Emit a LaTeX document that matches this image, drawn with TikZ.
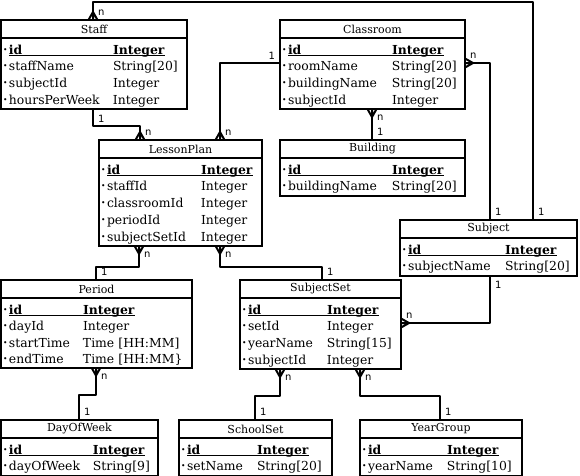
\documentclass[tikz,border=0pt]{standalone}
\usepackage{fontspec}
\setmainfont{DejaVu Serif}
\setsansfont{DejaVu Sans}
\usetikzlibrary{positioning}

\newlength\namecol
\newcommand\dotmark{\raisebox{2pt}{\fontsize{7.5}{7.5}\selectfont\textbullet}}
\newcommand\ulbox[1]{\setbox0\hbox{#1}\rlap{\rule[-2pt]{\wd0}{0.8pt}}\box0}
\newcommand\keyrow[2]{\hspace*{2pt}\makebox[6pt][l]{\dotmark}\ulbox{\makebox[\namecol][l]{\textbf{#1}}\textbf{#2}}}
\newcommand\fldrow[2]{\hspace*{2pt}\makebox[6pt][l]{\dotmark}\makebox[\namecol][l]{#1}#2}
\newcommand\fields[2]{\setlength\namecol{#1}\setbox\strutbox\hbox{\vrule height 14pt depth 2pt width 0pt}\begin{tabular}[t]{@{}l@{}}#2\end{tabular}}

\begin{document}
\begin{tikzpicture}[x=1pt,y=-1pt,
  etitle/.style={draw,line width=2pt,outer sep=0pt,anchor=north west,inner sep=0pt,minimum width=#1,minimum height=18pt,font=\fontsize{11}{12}\selectfont},
  ebody/.style={draw,line width=2pt,outer sep=0pt,inner xsep=0pt,inner ysep=2pt,text width=#1,align=left,font=\fontsize{12.4}{16}\selectfont},
  conn/.style={line width=2pt,line join=round},
  lbl/.style={font=\sffamily\fontsize{10}{10}\selectfont,inner sep=0pt},
  tagNE/.style={lbl,anchor=south west,xshift=4pt,yshift=4pt},
  tagSE/.style={lbl,anchor=north west,xshift=4pt,yshift=-5pt},
  tagNW/.style={lbl,anchor=south east,xshift=-4pt,yshift=3pt},
  crow/.pic={\draw[conn] (-4.5,0) -- (0,-8) -- (4.5,0) (0,0) -- (0,-8);}]
\useasboundingbox (0,0) rectangle (580,475);

% tables
\node[etitle=186pt] (staffh) at (1,20) {Staff};
\node[ebody=186pt,below right=0pt of staffh.south west] (staff) {\fields{104pt}{\keyrow{id}{Integer}\\ \fldrow{staffName}{String[20]}\\ \fldrow{subjectId}{Integer}\\ \fldrow{hoursPerWeek}{Integer}}};

\node[etitle=185pt] (classroomh) at (280,20) {Classroom};
\node[ebody=185pt,below right=0pt of classroomh.south west] (classroom) {\fields{104pt}{\keyrow{id}{Integer}\\ \fldrow{roomName}{String[20]}\\ \fldrow{buildingName}{String[20]}\\ \fldrow{subjectId}{Integer}}};

\node[etitle=163pt] (lessonplanh) at (99,140) {LessonPlan};
\node[ebody=163pt,below right=0pt of lessonplanh.south west] (lessonplan) {\fields{94pt}{\keyrow{id}{Integer}\\ \fldrow{staffId}{Integer}\\ \fldrow{classroomId}{Integer}\\ \fldrow{periodId}{Integer}\\ \fldrow{subjectSetId}{Integer}}};

\node[etitle=185pt] (buildingh) at (280,140) {Building};
\node[ebody=185pt,below right=0pt of buildingh.south west] (building) {\fields{104pt}{\keyrow{id}{Integer}\\ \fldrow{buildingName}{String[20]}}};

\node[etitle=177pt] (subjecth) at (400,220) {Subject};
\node[ebody=177pt,below right=0pt of subjecth.south west] (subject) {\fields{97pt}{\keyrow{id}{Integer}\\ \fldrow{subjectName}{String[20]}}};

\node[etitle=191pt] (periodh) at (1,280) {Period};
\node[ebody=191pt,below right=0pt of periodh.south west] (period) {\fields{74pt}{\keyrow{id}{Integer}\\ \fldrow{dayId}{Integer}\\ \fldrow{startTime}{Time [HH:MM]}\\ \fldrow{endTime}{Time [HH:MM\}}}};

\node[etitle=161pt] (subjectseth) at (240,280) {SubjectSet};
\node[ebody=161pt,below right=0pt of subjectseth.south west] (subjectset) {\fields{79pt}{\keyrow{id}{Integer}\\ \fldrow{setId}{Integer}\\ \fldrow{yearName}{String[15]}\\ \fldrow{subjectId}{Integer}}};

\node[etitle=157pt] (dayofweekh) at (1,420) {DayOfWeek};
\node[ebody=157pt,below right=0pt of dayofweekh.south west] (dayofweek) {\fields{84pt}{\keyrow{id}{Integer}\\ \fldrow{dayOfWeek}{String[9]}}};

\node[etitle=153pt] (schoolseth) at (179,420) {SchoolSet};
\node[ebody=153pt,below right=0pt of schoolseth.south west] (schoolset) {\fields{70pt}{\keyrow{id}{Integer}\\ \fldrow{setName}{String[20]}}};

\node[etitle=162pt] (yeargrouph) at (360,420) {YearGroup};
\node[ebody=162pt,below right=0pt of yeargrouph.south west] (yeargroup) {\fields{79pt}{\keyrow{id}{Integer}\\ \fldrow{yearName}{String[10]}}};

% relations
\draw[conn] ([xshift=92pt]staffh.north west) pic{crow} node[tagNE]{n} -- ++(0,-18.5) -| ([xshift=133pt]subjecth.north west) node[tagNE]{1};
\draw[conn] ([xshift=92pt]staff.south west) node[tagSE]{1} -- ++(0,17) -| ([xshift=41pt]lessonplanh.north west) pic{crow} node[tagNE]{n};
\draw[conn] ([yshift=-25pt]classroom.north west) node[tagNW]{1} -| ([xshift=121pt]lessonplanh.north west) pic{crow} node[tagNE]{n};
\draw[conn] ([yshift=-25pt]classroom.north east) pic[rotate=-90]{crow} node[tagNE]{n} -| ([xshift=90pt]subjecth.north west) node[tagNE]{1};
\draw[conn] ([xshift=92pt]classroom.south west) pic[rotate=180]{crow} node[tagSE]{n} -- ([xshift=92pt]buildingh.north west) node[tagNE]{1};
\draw[conn] ([xshift=40pt]lessonplan.south west) pic[rotate=180]{crow} node[tagSE]{n} -- ++(0,21) -| ([xshift=95pt]periodh.north west) node[tagNE]{1};
\draw[conn] ([xshift=121pt]lessonplan.south west) pic[rotate=180]{crow} node[tagSE]{n} -- ++(0,21) -| ([xshift=82pt]subjectseth.north west) node[tagNE]{1};
\draw[conn] ([xshift=90pt]subject.south west) node[tagSE]{1} |- ([yshift=-25pt]subjectset.north east) pic[rotate=-90]{crow} node[tagNE]{n};
\draw[conn] ([xshift=95pt]period.south west) pic[rotate=180]{crow} node[tagSE]{n} -- ++(0,27) -| ([xshift=78pt]dayofweekh.north west) node[tagNE]{1};
\draw[conn] ([xshift=40pt]subjectset.south west) pic[rotate=180]{crow} node[tagSE]{n} -- ++(0,27) -| ([xshift=76pt]schoolseth.north west) node[tagNE]{1};
\draw[conn] ([xshift=120pt]subjectset.south west) pic[rotate=180]{crow} node[tagSE]{n} -- ++(0,27) -| ([xshift=80pt]yeargrouph.north west) node[tagNE]{1};
\end{tikzpicture}
\end{document}
